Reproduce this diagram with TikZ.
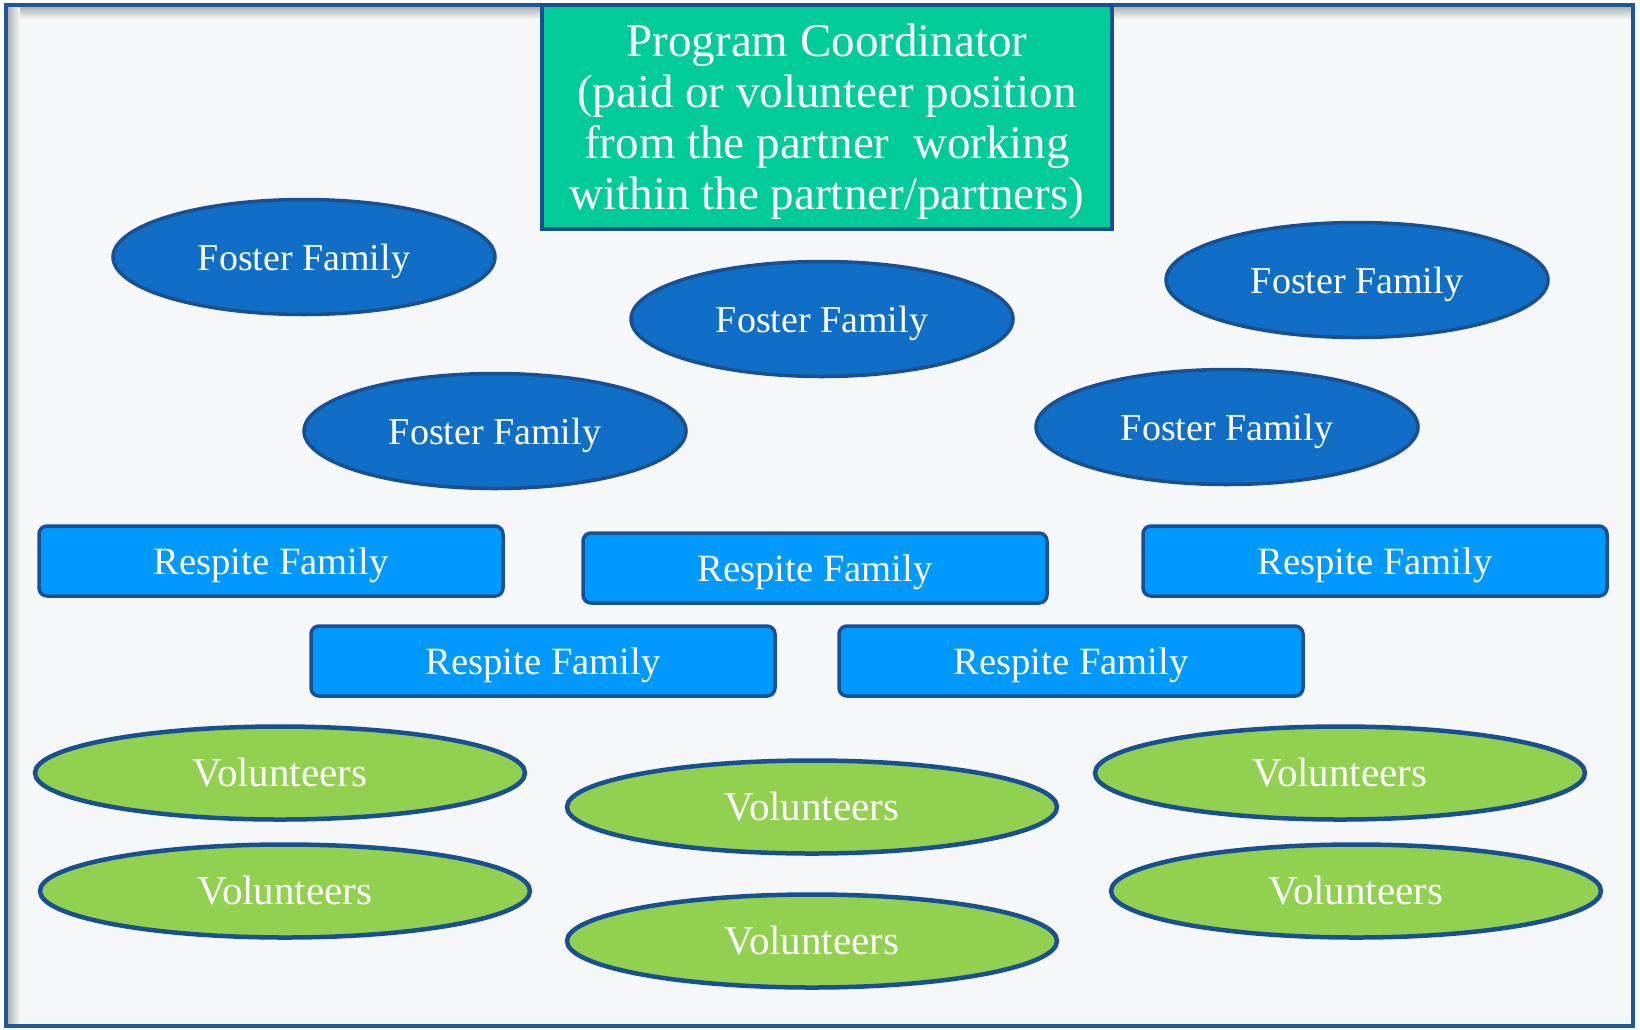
\documentclass[tikz,border=0pt]{standalone}
\usepackage{fontspec}
\setmainfont{Liberation Serif}
\usetikzlibrary{shapes.geometric}
\definecolor{bgc}{RGB}{246,247,248}
\definecolor{framec}{RGB}{30,88,150}
\definecolor{edgec}{RGB}{24,80,145}
\definecolor{fosterc}{RGB}{16,110,198}
\definecolor{respitec}{RGB}{0,153,255}
\definecolor{coordc}{RGB}{0,204,153}
\definecolor{volc}{RGB}{146,208,80}
\tikzset{
  lbl/.style={text=white, inner sep=0pt},
  foster/.style={lbl, font=\fontsize{38}{46}\selectfont, text depth=0pt,
    ellipse, draw=edgec, line width=3.5pt, fill=fosterc,
    minimum width=382pt, minimum height=115pt},
  respite/.style={lbl, font=\fontsize{38.6}{46}\selectfont, text depth=0pt,
    rectangle, rounded corners=8pt, draw=edgec, line width=3.5pt,
    fill=respitec, minimum width=464pt, minimum height=70pt},
  vol/.style={lbl, font=\fontsize{41}{48}\selectfont,
    ellipse, draw=edgec, line width=4.5pt, fill=volc,
    minimum width=490pt, minimum height=93pt},
  coordbox/.style={text=white, font=\fontsize{47}{51}\selectfont, align=center,
    text depth=0pt, rectangle, draw=edgec, line width=3.5pt, fill=coordc, inner sep=0pt,
    minimum width=570pt, minimum height=224pt}
}
\begin{document}
\begin{tikzpicture}[x=1pt,y=-1pt]
\useasboundingbox (0,0) rectangle (1640,1029);
\fill[white] (0,0) rectangle (1640,1029);
\fill[bgc] (6,5) rectangle (1633,1026);
\shade[top color=black!30, bottom color=bgc] (7,7) rectangle (1632,19);
\shade[left color=black!30, right color=bgc] (8,7) rectangle (20,1025);
\draw[framec, line width=4pt] (6,5) rectangle (1633,1026);

\node[coordbox] (pc) at (827,117) {Program Coordinator\\(paid or volunteer position\\from the partner\ \ working\\within the partner/partners)};

\node[foster] (f1) at (304,257) {Foster Family};
\node[foster] (f2) at (822,319) {Foster Family};
\node[foster] (f3) at (1357,280) {Foster Family};
\node[foster] (f4) at (495,431) {Foster Family};
\node[foster] (f5) at (1227,427) {Foster Family};

\node[respite] (r1) at (271,561) {Respite Family};
\node[respite] (r2) at (815,568) {Respite Family};
\node[respite] (r3) at (1375,561) {Respite Family};
\node[respite] (r4) at (543,661) {Respite Family};
\node[respite] (r5) at (1071,661) {Respite Family};

\node[vol] (v1) at (280,773) {Volunteers};
\node[vol] (v2) at (812,807) {Volunteers};
\node[vol] (v3) at (1340,773) {Volunteers};
\node[vol] (v4) at (285,891) {Volunteers};
\node[vol] (v5) at (812,941) {Volunteers};
\node[vol] (v6) at (1356,891) {Volunteers};
\end{tikzpicture}
\end{document}
